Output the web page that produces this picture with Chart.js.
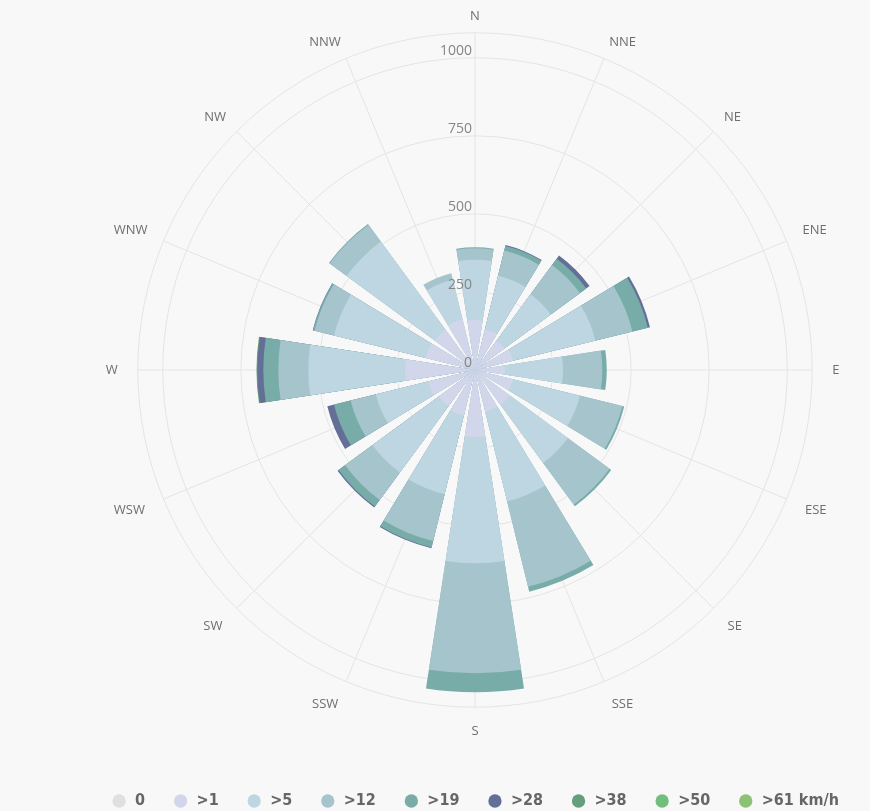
<!DOCTYPE html>
<html>
<head>
<meta charset="utf-8">
<title>Wind rose</title>
<script src="https://cdn.jsdelivr.net/npm/chart.js@4/dist/chart.umd.min.js"></script>
<style>
  html, body { margin: 0; padding: 0; background: #f8f8f8; overflow: hidden; width: 870px; height: 811px; }
  #wrap { position: absolute; left: 40px; top: 0; width: 870px; height: 819px; }
</style>
</head>
<body>
<div id="wrap"><canvas id="rose"></canvas></div>
<script>
// Compass directions, clockwise from north
const directions = ['N', 'NNE', 'NE', 'ENE', 'E', 'ESE', 'SE', 'SSE', 'S', 'SSW', 'SW', 'WSW', 'W', 'WNW', 'NW', 'NNW'];

// Wind speed classes (km/h)
const speedLabels = ['0', '>1', '>5', '>12', '>19', '>28', '>38', '>50', '>61 km/h'];

// Observation counts per direction for each speed class
const calm    = [0, 0, 0, 0, 0, 0, 0, 0, 0, 0, 0, 0, 0, 0, 0, 0];
const above1  = [160, 134, 117, 125, 96, 125, 138, 138, 215, 151, 144, 154, 224, 163, 160, 167];
const above5  = [193, 177, 184, 272, 186, 221, 231, 295, 404, 259, 263, 173, 310, 302, 350, 131];
const above12 = [37, 83, 116, 122, 126, 140, 166, 282, 352, 154, 109, 83, 96, 64, 67, 21];
const above19 = [3, 15, 25, 51, 14, 6, 6, 16, 61, 21, 26, 55, 48, 5, 3, 0];
const above28 = [0, 3, 13, 7, 0, 0, 0, 0, 0, 3, 4, 22, 19, 1, 0, 0];
const above38 = [0, 0, 0, 0, 0, 0, 0, 0, 0, 0, 0, 0, 3, 0, 0, 0];
const above50 = [0, 0, 0, 0, 0, 0, 0, 0, 0, 0, 0, 0, 0, 0, 0, 0];
const above61 = [0, 0, 0, 0, 0, 0, 0, 0, 0, 0, 0, 0, 0, 0, 0, 0];

// Radial axis
const radialTicks = [0, 250, 500, 750, 1000];
const radialMax = 1080;

const series = [calm, above1, above5, above12, above19, above28, above38, above50, above61];
const colors = ['#e0e0e0', '#d1d6ea', '#bed6e1', '#a5c4cb', '#77aca9', '#646f98', '#659e7b', '#74be7d', '#8cc176'];

// Angular layout of one rose: each bar spans BAR degrees, separated by GAP degrees.
const BAR = 17.5;
const GAP = 22.5 - BAR;
const LEAD = 360 - BAR / 2; // empty lead-in so the first bar is centred on north

// Running totals: each ring is drawn from the centre out to its cumulative value,
// and the rings are layered so that lower speed classes sit on top.
const cumulative = series.map((_, k) =>
  directions.map((_, i) => series.slice(0, k + 1).reduce((s, arr) => s + arr[i], 0))
);

function ringData(k) {
  const out = [0];
  directions.forEach((_, i) => {
    if (i > 0) out.push(0);
    out.push(series[k][i] > 0 ? cumulative[k][i] : 0);
  });
  return out;
}

const FONT = "'Open Sans', 'DejaVu Sans', sans-serif";
const LEGEND_FONT = "'Liberation Sans Narrow', 'DejaVu Sans Condensed', 'Liberation Sans', sans-serif";

const datasets = series.map((_, k) => ({
  label: speedLabels[k],
  data: ringData(k),
  backgroundColor: colors[k],
  borderWidth: 0,
  angle: ctx => ctx.dataIndex === 0 ? LEAD : (ctx.dataIndex % 2 === 1 ? BAR : GAP)
}));

// Value labels on the north axis, right-aligned against the axis line
const radialTickLabels = {
  id: 'radialTickLabels',
  afterDatasetsDraw(chart) {
    const r = chart.scales.r;
    const ctx = chart.ctx;
    ctx.save();
    ctx.font = '14px ' + FONT;
    ctx.fillStyle = '#858585';
    ctx.textAlign = 'right';
    ctx.textBaseline = 'middle';
    radialTicks.forEach(v => {
      const d = r.getDistanceFromCenterForValue(v);
      ctx.fillText(String(v), r.xCenter - 3, r.yCenter - d - 6.5);
    });
    ctx.restore();
  }
};

// Compass labels sit a little closer to the rim on the northern half
const labelPadding = ctx => 20 - 7 * Math.max(0, Math.cos(ctx.index * 2 * Math.PI / directions.length));

new Chart(document.getElementById('rose'), {
  type: 'polarArea',
  data: { labels: directions, datasets },
  plugins: [radialTickLabels],
  options: {
    responsive: true,
    maintainAspectRatio: false,
    animation: false,
    events: [],
    layout: { padding: { top: 9, left: 0, right: 0, bottom: 0 } },
    scales: {
      r: {
        min: 0,
        max: radialMax,
        startAngle: 0,
        afterBuildTicks: scale => {
          scale.ticks = radialTicks.concat([radialMax]).map(v => ({ value: v }));
        },
        ticks: { display: false },
        grid: { circular: true, color: '#e4e4e4', lineWidth: 1 },
        angleLines: { display: true, color: '#e4e4e4', lineWidth: 1 },
        pointLabels: {
          display: true,
          padding: labelPadding,
          color: '#6e6e6e',
          font: { family: FONT, size: 13, lineHeight: 0.6 }
        }
      }
    },
    plugins: {
      tooltip: { enabled: false },
      legend: {
        position: 'bottom',
        title: { display: true, text: ' ', font: { size: 10, lineHeight: 1 }, padding: { top: 16.5, bottom: 0 } },
        labels: {
          usePointStyle: true,
          pointStyle: 'circle',
          boxWidth: 16,
          boxHeight: 9.4,
          padding: 27.5,
          color: '#575757',
          font: { family: LEGEND_FONT, size: 16, weight: 'bold' },
          generateLabels: chart => chart.data.datasets.map((ds, i) => ({
            text: ds.label,
            fillStyle: ds.backgroundColor,
            strokeStyle: ds.backgroundColor,
            lineWidth: 0,
            pointStyle: 'circle',
            hidden: false,
            datasetIndex: i
          }))
        }
      }
    }
  }
});
</script>
</body>
</html>
